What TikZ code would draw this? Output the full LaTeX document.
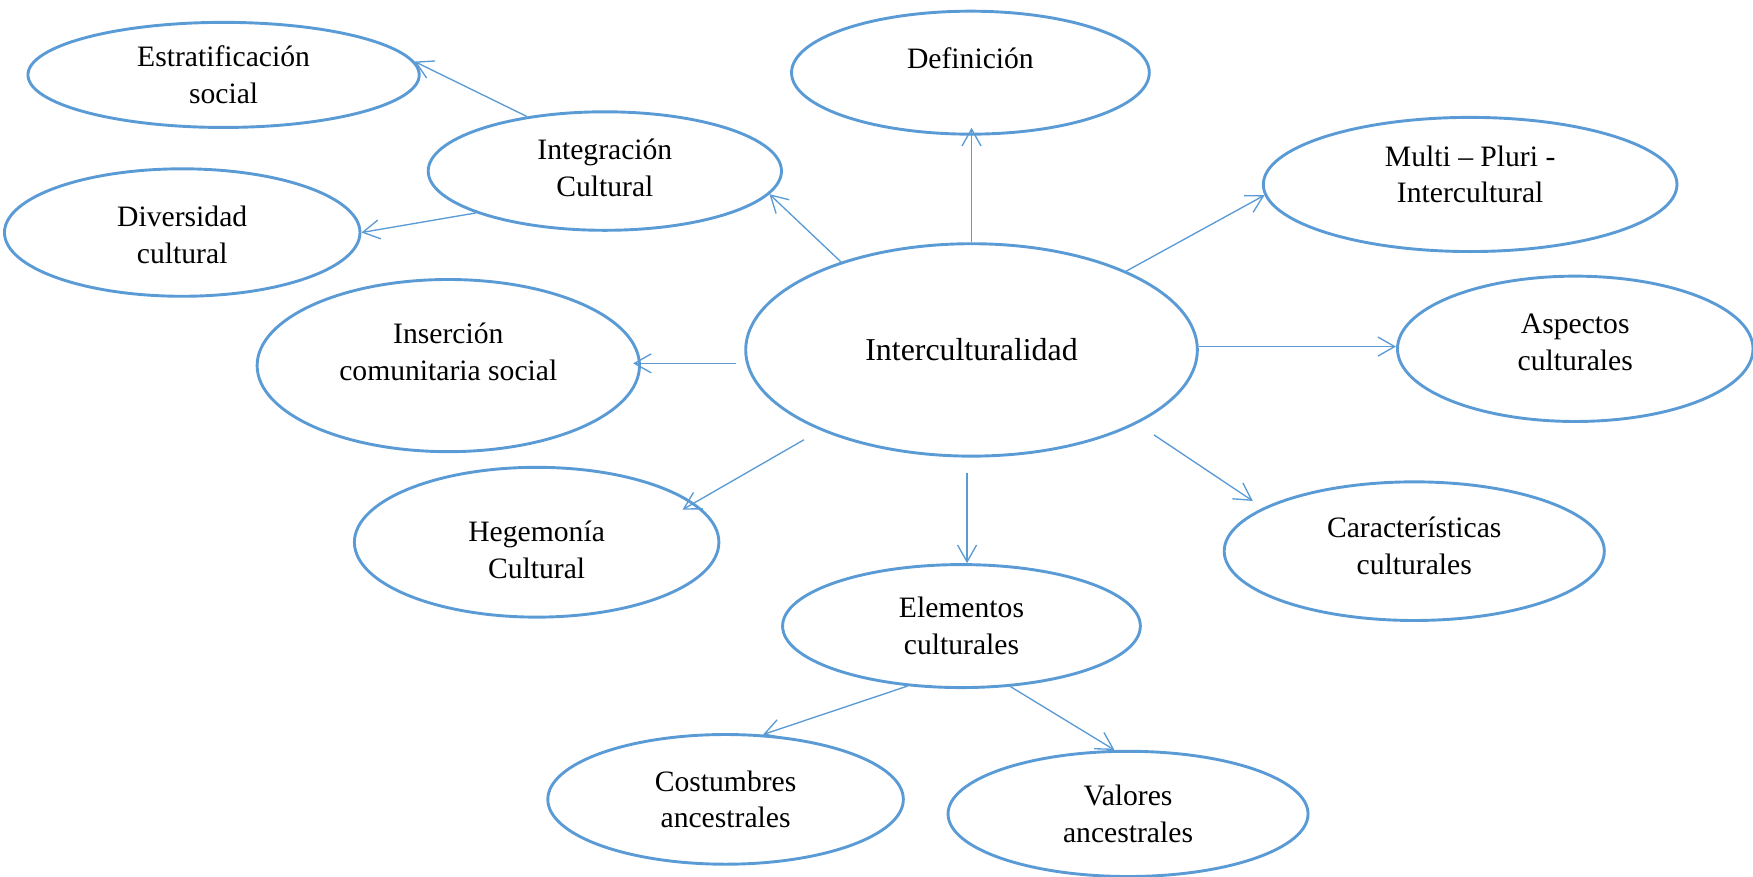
\documentclass[tikz,border=0pt]{standalone}
\usepackage{fontspec}
\setmainfont{Liberation Serif}
\usetikzlibrary{shapes.geometric,arrows.meta}
\definecolor{bl}{RGB}{91,155,213}
\tikzset{
  oval/.style={ellipse, draw=bl, line width=2.6pt, inner sep=0pt},
  txt/.style={align=center, font=\fontsize{26.5}{33}\selectfont, inner sep=0pt},
  bigtxt/.style={align=center, font=\fontsize{28.5}{34}\selectfont, inner sep=0pt},
  arr/.style={draw=bl, line width=1.2pt, -{Straight Barb[length=15pt,width=17pt]}}
}
\begin{document}
\begin{tikzpicture}[x=1pt,y=-1pt]
\useasboundingbox (0,0) rectangle (1568,784);
\node[oval, minimum width=350pt, minimum height=94pt, label={[txt]center:Estratificación\\social}] (estr) at (200,67) {};
\node[oval, minimum width=320pt, minimum height=110pt, label={[txt,yshift=13pt]center:Definición}] (def) at (868,65) {};
\node[oval, minimum width=316pt, minimum height=106pt, label={[txt,yshift=3pt]center:Integración\\Cultural}] (integ) at (541,153) {};
\node[oval, minimum width=370pt, minimum height=120pt, label={[txt,yshift=9pt]center:Multi – Pluri -\\Intercultural}] (multi) at (1315,165) {};
\node[oval, minimum width=318pt, minimum height=114pt, label={[txt,yshift=-2pt]center:Diversidad\\cultural}] (div) at (163,208) {};
\node[oval, minimum width=404pt, minimum height=190pt, label={[bigtxt]center:Interculturalidad}] (inter) at (869,313) {};
\node[oval, minimum width=342pt, minimum height=154pt, label={[txt,yshift=12pt]center:Inserción\\comunitaria social}] (ins) at (401,327) {};
\node[oval, minimum width=318pt, minimum height=130pt, label={[txt,yshift=6pt]center:Aspectos\\culturales}] (asp) at (1409,312) {};
\node[oval, minimum width=326pt, minimum height=134pt, label={[txt,yshift=-7pt]center:Hegemonía\\Cultural}] (heg) at (480,485) {};
\node[oval, minimum width=340pt, minimum height=124pt, label={[txt,yshift=5pt]center:Características\\culturales}] (car) at (1265,493) {};
\node[oval, minimum width=320pt, minimum height=110pt, label={[txt]center:Elementos\\culturales}] (elem) at (860,560) {};
\node[oval, minimum width=318pt, minimum height=116pt, label={[txt]center:Costumbres\\ancestrales}] (cost) at (649,715) {};
\node[oval, minimum width=322pt, minimum height=112pt, label={[txt]center:Valores\\ancestrales}] (val) at (1009,728) {};

\draw[arr, shorten >=-7pt] (inter.north) -- (inter.north |- def.south);
\draw[arr] (inter.146) -- (integ.-8);
\draw[arr] (inter.27) -- (multi.183);
\draw[arr] ([yshift=3pt]inter.east) -- ([yshift=3pt]inter.east -| asp.west);
\draw[arr, shorten <=7pt, shorten >=-7pt] ([yshift=-12pt]inter.west) -- ([yshift=-12pt]inter.west -| ins.east);
\draw[arr, shorten <=17pt, shorten >=-12pt] (inter.208) -- (heg.14);
\draw[arr, shorten <=18pt, shorten >=11pt] (inter.336) -- (car.164);
\draw[arr, shorten <=14pt] ([xshift=-4pt]inter.south) -- ([xshift=-4pt]inter.south |- elem.north);
\draw[arr] (integ.145) -- (estr.4);
\draw[arr] (integ.198) -- (div.east);
\draw[arr] (elem.228) -- (cost.60);
\draw[arr] (elem.309) -- (val.102);
\end{tikzpicture}
\end{document}
